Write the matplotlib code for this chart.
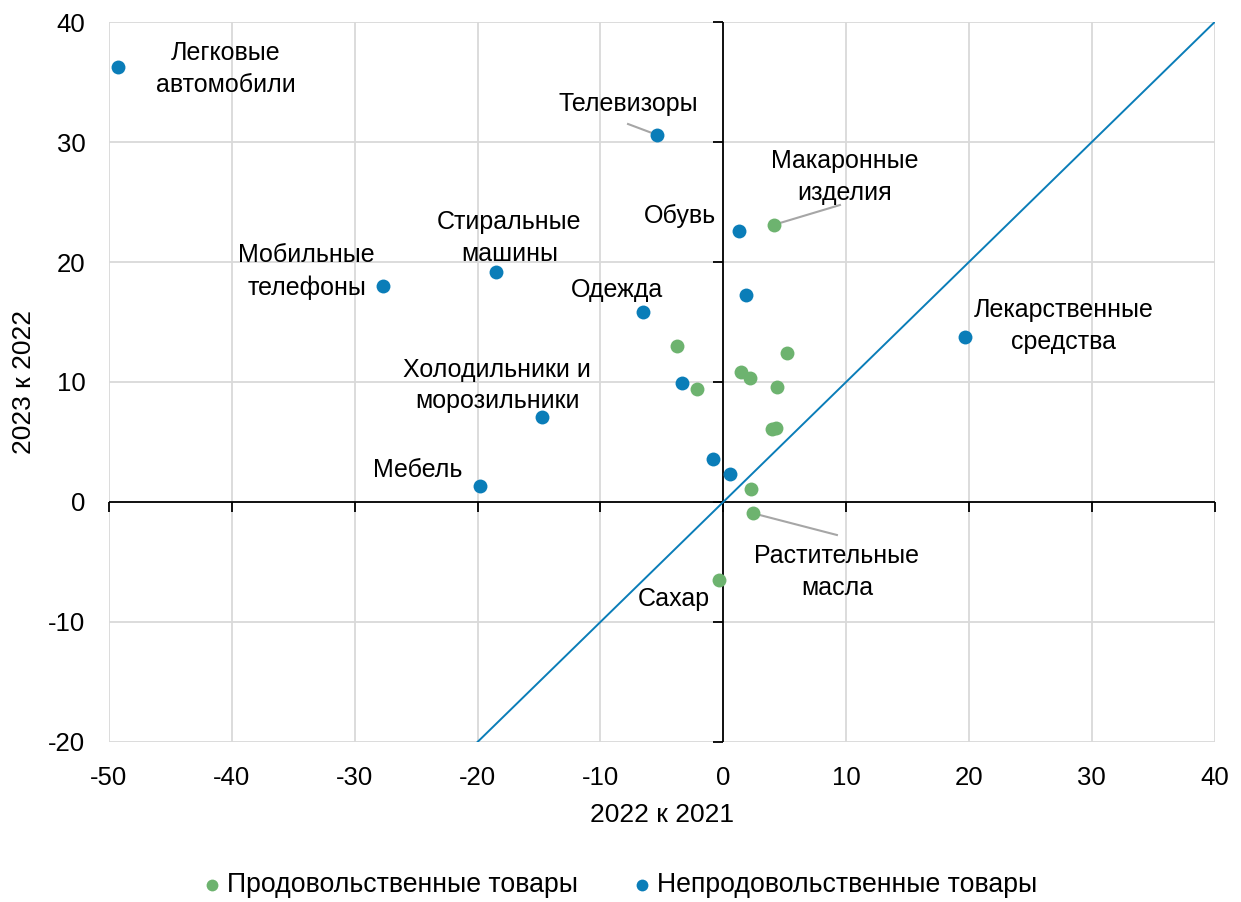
import matplotlib.pyplot as plt

plt.rcParams['font.family'] = ['Liberation Sans', 'DejaVu Sans']
plt.rcParams['axes.unicode_minus'] = False

# food goods (green)
food_x = [4.1, -3.8, 5.2, 1.45, 2.15, -2.1, 4.4, 3.95, 4.3, 2.25, 2.4, -0.35]
food_y = [23.05, 13.0, 12.45, 10.8, 10.35, 9.4, 9.55, 6.05, 6.2, 1.05, -0.95, -6.5]

# non-food goods (blue)
nonfood_x = [-49.3, -5.4, 1.3, 1.85, -27.7, -18.5, -6.55, -3.35, -14.75, -19.8, -0.8, 0.55, 19.7]
nonfood_y = [36.25, 30.6, 22.6, 17.25, 18.0, 19.2, 15.8, 9.9, 7.1, 1.35, 3.6, 2.35, 13.75]

x_ticks = [-50, -40, -30, -20, -10, 0, 10, 20, 30, 40]
y_ticks = [-20, -10, 0, 10, 20, 30, 40]

green = '#6db36f'
blue = '#0a7db8'

# text labels: (text, label x, label y)
labels = [
    ('Легковые\nавтомобили', -40.5, 36.1),
    ('Телевизоры', -7.75, 33.2),
    ('Макаронные\nизделия', 9.9, 27.1),
    ('Обувь', -3.5, 23.8),
    ('Стиральные\nмашины', -17.4, 22.0),
    ('Мобильные\nтелефоны', -33.9, 19.2),
    ('Одежда', -8.65, 17.7),
    ('Лекарственные\nсредства', 27.7, 14.65),
    ('Холодильники и\nморозильники', -18.4, 9.7),
    ('Мебель', -24.85, 2.67),
    ('Растительные\nмасла', 9.25, -5.85),
    ('Сахар', -4.0, -8.1),
]
# leader lines: (x0, y0, x1, y1)
leaders = [
    (-7.75, 31.5, -5.8, 30.75),
    (4.45, 23.2, 9.5, 24.75),
    (2.65, -1.0, 9.25, -2.75),
]

fig = plt.figure(figsize=(12.41, 9.02), dpi=100)
ax = fig.add_axes([0.0878, 0.1774, 0.891, 0.7982])

ax.set_xlim(-50, 40)
ax.set_ylim(-20, 40)
ax.set_xticks(x_ticks)
ax.set_yticks(y_ticks)
ax.grid(True, color='#d9d9d9', linewidth=1.3)
ax.set_axisbelow(True)
for s in ax.spines.values():
    s.set_visible(False)
ax.tick_params(length=0, labelsize=18.5, pad=17)

# zero axes with outside tick marks
ax.axhline(0, color='black', linewidth=1.3, zorder=2)
ax.axvline(0, color='black', linewidth=1.3, zorder=2)
ax.plot(x_ticks, [0] * len(x_ticks), linestyle='none', marker=3, markersize=7,
        color='black', markeredgewidth=1.3, zorder=2, clip_on=False)
ax.plot([0] * len(y_ticks), y_ticks, linestyle='none', marker=0, markersize=7,
        color='black', markeredgewidth=1.3, zorder=2, clip_on=False)

# diagonal y = x
ax.plot([-20, 40], [-20, 40], color=blue, linewidth=1.4, zorder=3)

for x0, y0, x1, y1 in leaders:
    ax.plot([x0, x1], [y0, y1], color='#a6a6a6', linewidth=1.5, zorder=3)

ax.scatter(food_x, food_y, s=100, color=green, zorder=4, linewidths=0,
           label='Продовольственные товары')
ax.scatter(nonfood_x, nonfood_y, s=100, color=blue, zorder=4, linewidths=0,
           label='Непродовольственные товары')

for txt, lx, ly in labels:
    ax.text(lx, ly, txt, ha='center', va='center', fontsize=18,
            linespacing=1.4, zorder=5)

ax.set_xlabel('2022 к 2021', fontsize=19, labelpad=10)
ax.set_ylabel('2023 к 2022', fontsize=19, labelpad=9)

leg = fig.legend(loc='center', bbox_to_anchor=(0.4925, 0.019), ncol=2, frameon=False,
                 handletextpad=-0.45, columnspacing=1.4, markerscale=0.85,
                 prop={'size': 19.2})

fig.savefig('out.png', dpi=100)
